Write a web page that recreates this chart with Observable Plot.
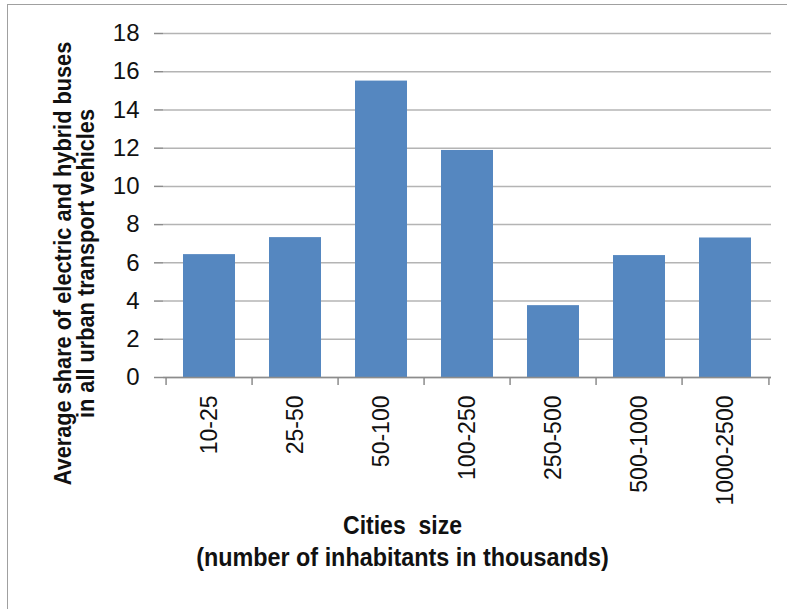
<!DOCTYPE html>
<html>
<head>
<meta charset="utf-8">
<script src="https://cdn.jsdelivr.net/npm/d3@7"></script>
<script src="https://cdn.jsdelivr.net/npm/@observablehq/plot@0.6"></script>
<style>
  html, body { margin: 0; padding: 0; background: #fff; overflow: hidden; }
  #wrap { position: relative; width: 787px; height: 609px; }
  #wrap svg { position: absolute; left: 0; top: 0; }
  #border { position: absolute; left: 7px; top: 4px; right: -10px; bottom: -10px;
            border: 1.5px solid #a0a0a0; pointer-events: none; }
</style>
</head>
<body>
<div id="wrap"><div id="border"></div></div>
<script>
const categories = ["10-25", "25-50", "50-100", "100-250", "250-500", "500-1000", "1000-2500"];
const values = [6.43, 7.32, 15.51, 11.88, 3.76, 6.38, 7.30];
const yTicks = [0, 2, 4, 6, 8, 10, 12, 14, 16, 18];
const yTitle = ["Average share of electric and hybrid buses", "in all urban transport vehicles"];
const xTitle = ["Cities  size", "(number of inhabitants in thousands)"];

const data = categories.map((c, i) => ({category: c, value: values[i]}));

const W = 787, H = 609;
const mL = 163, mR = 16, mT = 33, mB = 232;
const innerW = W - mL - mR;
const step = innerW / categories.length;
const font = "'Liberation Sans', Arial, sans-serif";

const chart = Plot.plot({
  width: W, height: H,
  marginLeft: mL, marginRight: mR, marginTop: mT, marginBottom: mB,
  style: {background: "transparent", fontFamily: font, color: "#111"},
  x: {domain: categories, paddingInner: 0.4, paddingOuter: 0.2, axis: null},
  y: {domain: [0, 18], axis: null},
  marks: [
    Plot.gridY(yTicks, {stroke: "#b4b4b4", strokeOpacity: 1, strokeWidth: 1.5}),
    Plot.barY(data, {x: "category", y: "value", fill: "#5587c0"}),
    // y axis line and ticks
    Plot.ruleX([0], {y1: 0, y2: 18, dx: -innerW / 2, stroke: "#8c8c8c", strokeWidth: 1.5}),
    Plot.axisY(yTicks, {label: null, tickSize: 9, tickPadding: 15, fontSize: 24, stroke: "#8c8c8c", strokeWidth: 1.5, fill: "#111"}),
    // x axis line
    Plot.ruleY([0], {stroke: "#8c8c8c", strokeWidth: 1.5}),
    // boundary tick marks between categories
    Plot.ruleX(categories, {x: d => d, y1: 0, y2: 0, insetTop: 8, dx: -step / 2, stroke: "#8c8c8c", strokeWidth: 1.5}),
    Plot.ruleX(categories.slice(-1), {x: d => d, y1: 0, y2: 0, insetTop: 8, dx: step / 2, stroke: "#8c8c8c", strokeWidth: 1.5}),
    // category labels
    Plot.text(data, {x: "category", y: 0, text: "category", rotate: -90, textAnchor: "end", lineAnchor: "middle",
      dy: 18, fontSize: 23, fill: "#111"}),
    // y title
    Plot.text([yTitle[0]], {frameAnchor: "left", textAnchor: "middle", lineAnchor: "middle", rotate: -90, dx: -100.5, dy: 58, fontSize: 24, fontWeight: "bold", fill: "#111"}),
    Plot.text([yTitle[1]], {frameAnchor: "left", textAnchor: "middle", lineAnchor: "middle", rotate: -90, dx: -77, dy: 58, fontSize: 24, fontWeight: "bold", fill: "#111"}),
    // x title
    Plot.text([xTitle[0]], {frameAnchor: "bottom", textAnchor: "middle", lineAnchor: "middle", dx: -65, dy: 148, fontSize: 25, fontWeight: "bold", fill: "#111"}),
    Plot.text([xTitle[1]], {frameAnchor: "bottom", textAnchor: "middle", lineAnchor: "middle", dx: -65, dy: 180, fontSize: 25, fontWeight: "bold", fill: "#111"})
  ]
});
chart.querySelectorAll("text").forEach(t => t.setAttribute("xml:space", "preserve"));
chart.style.whiteSpace = "pre";
// condensed look of the original's title font
const squeeze = {};
squeeze[yTitle[0]] = 0.906; squeeze[yTitle[1]] = 0.906;
squeeze[xTitle[0]] = 0.92; squeeze[xTitle[1]] = 0.935;
chart.querySelectorAll("text").forEach(t => {
  const s = squeeze[t.textContent];
  if (s) {
    const tr = t.getAttribute("transform") || "";
    t.setAttribute("transform", tr + ` scale(${s},1)`);
  }
});
document.getElementById("wrap").prepend(chart);
</script>
</body>
</html>
